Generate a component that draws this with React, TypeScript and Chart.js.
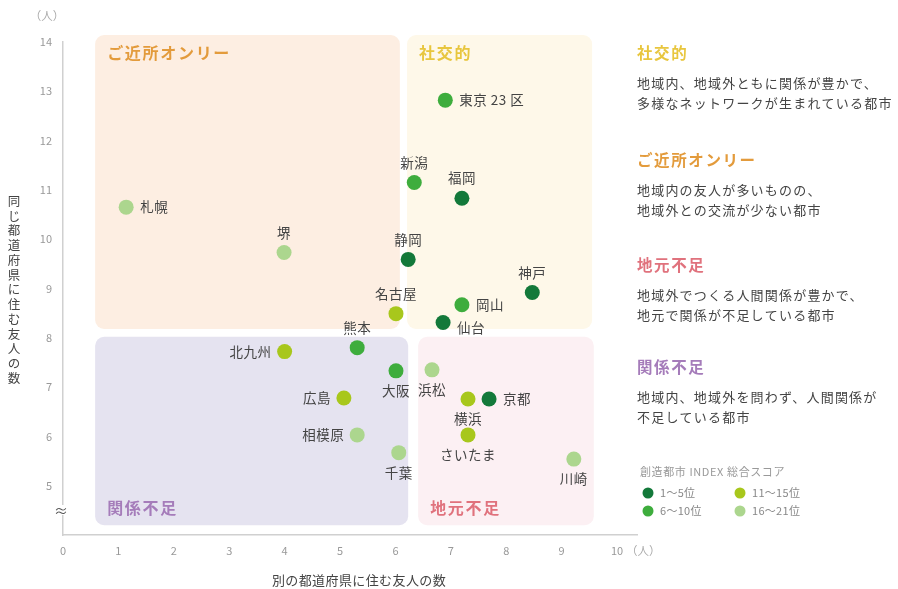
import React, { useEffect, useRef } from 'react';
import { Chart, registerables } from 'chart.js';
Chart.register(...registerables);

// ---- data ----
const cityNames = ['東京 23 区', '新潟', '福岡', '札幌', '堺', '静岡', '神戸', '岡山', '名古屋', '仙台', '熊本', '北九州', '大阪', '浜松', '広島', '横浜', '京都', '相模原', 'さいたま', '千葉', '川崎'];
const friendsOtherPref = [6.9, 6.34, 7.2, 1.14, 3.99, 6.23, 8.47, 7.2, 6.01, 6.86, 5.31, 4.0, 6.01, 6.66, 5.07, 7.31, 7.69, 5.31, 7.31, 6.06, 9.22];
const friendsSamePref = [12.82, 11.15, 10.83, 10.65, 9.73, 9.59, 8.92, 8.67, 8.49, 8.31, 7.8, 7.72, 7.33, 7.35, 6.78, 6.76, 6.76, 6.03, 6.03, 5.67, 5.54];
const rankGroup = [1, 1, 0, 3, 3, 0, 0, 1, 2, 0, 1, 2, 1, 3, 2, 2, 0, 3, 2, 3, 3];
const labelSide = ['right', 'above', 'above', 'right', 'above', 'above', 'above', 'right', 'above', 'right', 'above', 'left', 'below', 'below', 'left', 'below', 'right', 'left', 'below', 'below', 'below'];
const rankLabels = ['1～5位', '6～10位', '11～15位', '16～21位'];
const xTicks = [0, 1, 2, 3, 4, 5, 6, 7, 8, 9, 10];
const yTicks = [5, 6, 7, 8, 9, 10, 11, 12, 13, 14];

const quadrantNames = ['ご近所オンリー', '社交的', '関係不足', '地元不足'];
const quadrantX0 = [0.58, 6.21, 0.58, 6.41];
const quadrantX1 = [6.08, 9.55, 6.23, 9.58];
const quadrantY0 = [8.18, 8.18, 4.2, 4.2];
const quadrantY1 = [14.14, 14.14, 8.02, 8.02];

const sideNotes = [
  { title: '社交的', lines: ['地域内、地域外ともに関係が豊かで、', '多様なネットワークが生まれている都市'] },
  { title: 'ご近所オンリー', lines: ['地域内の友人が多いものの、', '地域外との交流が少ない都市'] },
  { title: '地元不足', lines: ['地域外でつくる人間関係が豊かで、', '地元で関係が不足している都市'] },
  { title: '関係不足', lines: ['地域内、地域外を問わず、人間関係が', '不足している都市'] },
];

// ---- styles ----
const FONT = '"Noto Sans CJK JP", "Noto Sans", sans-serif';
const rankColors = ['#13793a', '#3ead3d', '#a8c71c', '#acd68e'];
const quadFill = ['#fdeee2', '#fef8e9', '#e5e3f0', '#fcf0f3'];
const quadText = ['#e39b3c', '#e8c63e', '#a57cba', '#e0727d'];
const noteY = [53, 160, 265, 367];

const overlay = {
  id: 'overlay',
  beforeDatasetsDraw(chart: any) {
    const { ctx, scales } = chart;
    const xs = scales.x, ys = scales.y;
    ctx.save();
    for (let i = 0; i < quadrantNames.length; i++) {
      const l = xs.getPixelForValue(quadrantX0[i]);
      const r = xs.getPixelForValue(quadrantX1[i]);
      const t = ys.getPixelForValue(quadrantY1[i]);
      const b = ys.getPixelForValue(quadrantY0[i]);
      ctx.fillStyle = quadFill[i];
      ctx.beginPath();
      ctx.roundRect(l, t, r - l, b - t, 9);
      ctx.fill();
      ctx.fillStyle = quadText[i];
      ctx.font = `bold 16px ${FONT}`;
      (ctx as any).letterSpacing = '1.7px';
      ctx.textAlign = 'left';
      ctx.textBaseline = 'middle';
      const ty = i < 2 ? t + 18 : b - 17;
      ctx.fillText(quadrantNames[i], l + 12, ty);
    }
    (ctx as any).letterSpacing = '0px';
    ctx.restore();
  },
  afterDatasetsDraw(chart: any) {
    const { ctx, scales } = chart;
    const xs = scales.x, ys = scales.y;
    ctx.save();
    ctx.font = `13.5px ${FONT}`;
    (ctx as any).letterSpacing = '0.5px';
    ctx.fillStyle = '#444';
    ctx.textBaseline = 'middle';
    for (let i = 0; i < cityNames.length; i++) {
      const px = xs.getPixelForValue(friendsOtherPref[i]);
      const py = ys.getPixelForValue(friendsSamePref[i]);
      const side = labelSide[i];
      if (side === 'right') { ctx.textAlign = 'left'; ctx.fillText(cityNames[i], px + 14, py + (cityNames[i] === '仙台' ? 5 : 0)); }
      else if (side === 'left') { ctx.textAlign = 'right'; ctx.fillText(cityNames[i], px - 13, py); }
      else if (side === 'above') { ctx.textAlign = 'center'; ctx.fillText(cityNames[i], px, py - 20); }
      else { ctx.textAlign = 'center'; ctx.fillText(cityNames[i], px, py + 20); }
    }
    (ctx as any).letterSpacing = '0px';
    ctx.restore();
  },
  afterDraw(chart: any) {
    const { ctx, chartArea } = chart;
    ctx.save();
    // axis break mark
    ctx.fillStyle = '#fff';
    ctx.fillRect(chartArea.left - 5, 505, 10, 10);
    ctx.fillStyle = '#555';
    ctx.font = `14px ${FONT}`;
    ctx.textAlign = 'center';
    ctx.textBaseline = 'middle';
    ctx.fillText('≈', chartArea.left - 2, 511);
    // units
    ctx.fillStyle = '#aaa';
    ctx.font = `11.5px ${FONT}`;
    ctx.fillText('（人）', 47, 16);
    ctx.textAlign = 'left';
    ctx.fillText('（人）', 626, 551);
    // y axis title (vertical)
    ctx.fillStyle = '#444';
    ctx.font = `12.5px ${FONT}`;
    ctx.textAlign = 'center';
    const yTitle = '同じ都道府県に住む友人の数';
    for (let k = 0; k < yTitle.length; k++) ctx.fillText(yTitle[k], 14, 201 + k * 14.75);
    // x axis title
    ctx.font = `13px ${FONT}`;
    (ctx as any).letterSpacing = '0.4px';
    ctx.fillText('別の都道府県に住む友人の数', 359, 580);
    // side notes
    ctx.textAlign = 'left';
    for (let i = 0; i < sideNotes.length; i++) {
      ctx.fillStyle = quadText[quadrantNames.indexOf(sideNotes[i].title)];
      ctx.font = `bold 15.5px ${FONT}`;
      (ctx as any).letterSpacing = '1.6px';
      ctx.fillText(sideNotes[i].title, 637, noteY[i]);
      ctx.fillStyle = '#444';
      ctx.font = `13px ${FONT}`;
      (ctx as any).letterSpacing = '1.2px';
      sideNotes[i].lines.forEach((ln, j) => ctx.fillText(ln, 637, noteY[i] + 30 + j * 20));
    }
    // legend
    ctx.fillStyle = '#999';
    ctx.font = `11px ${FONT}`;
    (ctx as any).letterSpacing = '0.6px';
    ctx.fillText('創造都市 INDEX 総合スコア', 640, 472);
    (ctx as any).letterSpacing = '0.3px';
    for (let g = 0; g < rankLabels.length; g++) {
      const cx = g < 2 ? 648 : 740;
      const cy = g % 2 === 0 ? 493 : 511;
      ctx.fillStyle = rankColors[g];
      ctx.beginPath();
      ctx.arc(cx, cy, 5.5, 0, Math.PI * 2);
      ctx.fill();
      ctx.fillStyle = '#888';
      ctx.fillText(rankLabels[g], cx + 12, cy);
    }
    (ctx as any).letterSpacing = '0px';
    ctx.restore();
  },
};

export default function App() {
  const ref = useRef<HTMLCanvasElement>(null);
  useEffect(() => {
    if (!ref.current) return;
    const datasets = rankLabels.map((lab, g) => ({
      label: lab,
      data: cityNames
        .map((_, i) => ({ x: friendsOtherPref[i], y: friendsSamePref[i], g: rankGroup[i] }))
        .filter((p) => p.g === g)
        .map((p) => ({ x: p.x, y: p.y })),
      backgroundColor: rankColors[g],
      borderWidth: 0,
      pointRadius: 7.5,
      pointHoverRadius: 7.5,
    }));
    const chart = new Chart(ref.current, {
      type: 'scatter',
      data: { datasets },
      options: {
        animation: false,
        responsive: false,
        layout: { padding: { left: 0, top: 42, right: 261, bottom: 0 } },
        plugins: { legend: { display: false }, tooltip: { enabled: false } },
        scales: {
          x: {
            type: 'linear',
            min: 0,
            max: 10.36,
            afterFit: (s: any) => { s.height = 54; },
            afterBuildTicks: (s: any) => { s.ticks = xTicks.map((v) => ({ value: v })); },
            grid: { display: false, drawTicks: false },
            border: { display: true, color: '#d0d0d0', width: 1.5 },
            ticks: { color: '#999', font: { size: 11, family: FONT }, padding: 9, callback: (v: any) => String(v) },
          },
          y: {
            type: 'linear',
            min: 4,
            max: 14,
            afterFit: (s: any) => { s.width = 63; },
            afterBuildTicks: (s: any) => { s.ticks = yTicks.map((v) => ({ value: v })); },
            grid: { display: false, drawTicks: false },
            border: { display: true, color: '#d0d0d0', width: 1.5 },
            ticks: { color: '#999', font: { size: 11, family: FONT }, padding: 11, callback: (v: any) => String(v) },
          },
        },
      },
      plugins: [overlay],
    });
    return () => chart.destroy();
  }, []);
  return (
    <div style={{ position: 'absolute', left: 0, top: 0, width: 898, height: 589, background: '#fff' }}>
      <canvas ref={ref} width={898} height={589} style={{ width: 898, height: 589 }} />
    </div>
  );
}
